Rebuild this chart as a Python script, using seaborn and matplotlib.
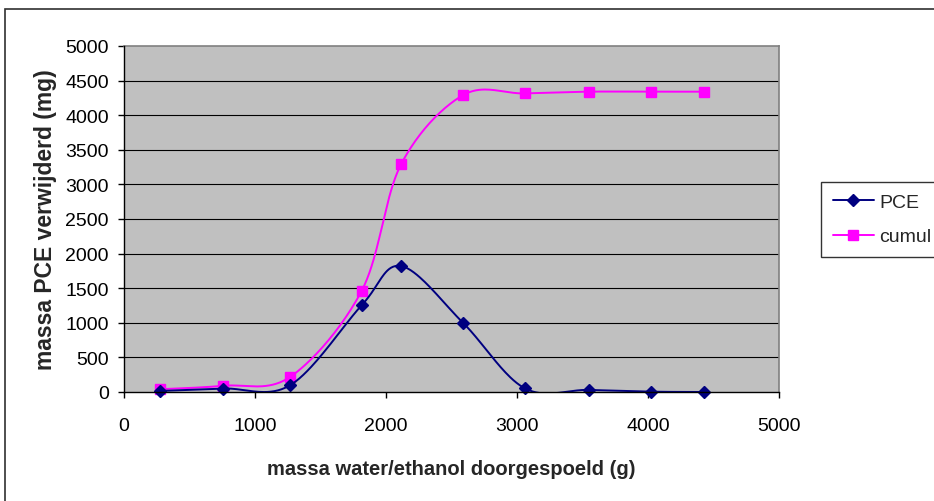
import numpy as np
import pandas as pd
import seaborn as sns
import matplotlib
matplotlib.use("Agg")
import matplotlib.pyplot as plt
from matplotlib.patches import Rectangle
from matplotlib.lines import Line2D

# Measurements: mass of water/ethanol flushed (g) vs. PCE removed (mg)
massa = [275, 757, 1270, 1815, 2115, 2588, 3058, 3546, 4020, 4428]
pce = [15, 50, 100, 1255, 1820, 1000, 55, 30, 5, 0]
cumul = [40, 90, 220, 1465, 3290, 4290, 4315, 4340, 4340, 4340]

x_ticks = [0, 1000, 2000, 3000, 4000, 5000]
y_ticks = list(range(0, 5001, 500))

W, H, DPI = 934, 502, 100
AX_L, AX_R, AX_T, AX_B = 124, 779, 47, 393  # plot area in pixels


def smooth(xs, ys, sx, sy, n=40):
    """Catmull-Rom style Bezier smoothing computed in screen space."""
    P = np.column_stack([np.asarray(xs, float) * sx, np.asarray(ys, float) * sy])
    P = np.vstack([P[0], P, P[-1]])
    t = np.linspace(0, 1, n)[:, None]
    parts = []
    for i in range(1, len(P) - 2):
        p0, p1, p2, p3 = P[i - 1], P[i], P[i + 1], P[i + 2]
        c1 = p1 + (p2 - p0) / 6.0
        c2 = p2 - (p3 - p1) / 6.0
        seg = ((1 - t) ** 3) * p1 + 3 * ((1 - t) ** 2) * t * c1 + 3 * (1 - t) * t ** 2 * c2 + t ** 3 * p2
        parts.append(seg if i == 1 else seg[1:])
    C = np.vstack(parts)
    return C[:, 0] / sx, C[:, 1] / sy


sns.set_style("white")
plt.rcParams["font.family"] = ["Liberation Sans", "DejaVu Sans"]

fig = plt.figure(figsize=(W / DPI, H / DPI), dpi=DPI)
fig.patch.set_facecolor("white")
ax = fig.add_axes([AX_L / W, 1 - AX_B / H, (AX_R - AX_L) / W, (AX_B - AX_T) / H])
ax.set_facecolor("#C0C0C0")

sx = (AX_R - AX_L) / 5000.0
sy = (AX_B - AX_T) / 5000.0

navy = "#000080"
magenta = "#FF00FF"

for vals, color, marker, msize, z in [
    (pce, navy, "D", 6.0, 4),
    (cumul, magenta, "s", 7.0, 3),
]:
    cx, cy = smooth(massa, vals, sx, sy)
    curve = pd.DataFrame({"x": cx, "y": cy})
    sns.lineplot(data=curve, x="x", y="y", sort=False, estimator=None,
                 color=color, linewidth=1.4, ax=ax, zorder=z)
    pts = pd.DataFrame({"x": massa, "y": vals})
    ax.plot(pts["x"], pts["y"], linestyle="none", marker=marker,
            markersize=msize, color=color, markeredgecolor=color, zorder=z + 0.5,
            clip_on=False)

ax.set_xlim(0, 5000)
ax.set_ylim(0, 5000)
ax.set_xticks(x_ticks)
ax.set_yticks(y_ticks)
ax.set_xticklabels([str(v) for v in x_ticks])
ax.set_yticklabels([str(v) for v in y_ticks])

for yv in y_ticks[1:-1]:
    ax.axhline(yv, color="black", linewidth=0.8, zorder=1)

for side in ["top", "right"]:
    ax.spines[side].set_color("#808080")
    ax.spines[side].set_linewidth(1.2)
for side in ["left", "bottom"]:
    ax.spines[side].set_color("black")
    ax.spines[side].set_linewidth(1.0)
    ax.spines[side].set_zorder(6)

ax.tick_params(axis="both", direction="out", length=4, width=1.0, color="black",
               labelsize=14, labelcolor="black", bottom=True, left=True)
ax.tick_params(axis="x", pad=14)
ax.tick_params(axis="y", pad=7)

ax.set_xlabel("massa water/ethanol doorgespoeld (g)", fontsize=14.5,
              fontweight="bold", labelpad=18)
ax.set_ylabel("massa PCE verwijderd (mg)", fontsize=16.5, fontweight="bold",
              labelpad=6)

handles = [
    Line2D([], [], color=navy, marker="D", markersize=6.0, linewidth=1.4),
    Line2D([], [], color=magenta, marker="s", markersize=7.0, linewidth=1.4),
]
leg = fig.legend(handles, ["PCE", "cumul"], loc="upper left",
                 bbox_to_anchor=(821 / W, 1 - 183 / H), fontsize=14,
                 frameon=True, fancybox=False, edgecolor="black",
                 handlelength=2.1, handletextpad=0.3, borderpad=0.6,
                 labelspacing=0.85, borderaxespad=0)
leg.get_frame().set_linewidth(1.0)

# Outer chart frame
fig.patches.append(Rectangle((5 / W, -0.05), 1.1, (H - 10) / H + 0.05,
                             transform=fig.transFigure, fill=False,
                             edgecolor="#303030", linewidth=1.2))

fig.savefig("out.png", dpi=DPI)
